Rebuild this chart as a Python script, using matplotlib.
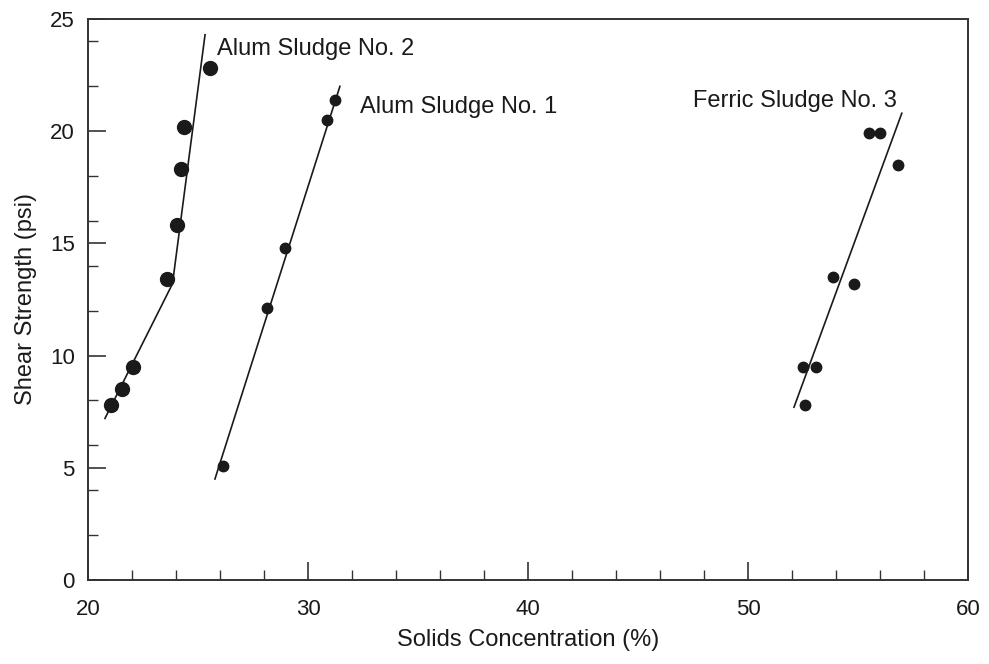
import matplotlib
matplotlib.use('Agg')
import matplotlib.pyplot as plt
from matplotlib.ticker import MultipleLocator

plt.rcParams['font.family'] = ['Liberation Sans', 'DejaVu Sans']

# Alum Sludge No. 2
alum2_x = [21.05, 21.55, 22.05, 23.6, 24.05, 24.23, 24.36, 25.55]
alum2_y = [7.8, 8.5, 9.5, 13.4, 15.8, 18.3, 20.2, 22.8]
alum2_fit_x = [20.77, 23.84, 25.32]
alum2_fit_y = [7.2, 13.2, 24.3]

# Alum Sludge No. 1
alum1_x = [26.14, 28.12, 28.94, 30.85, 31.24]
alum1_y = [5.1, 12.1, 14.8, 20.5, 21.4]
alum1_fit_x = [25.77, 31.45]
alum1_fit_y = [4.5, 22.0]

# Ferric Sludge No. 3
ferric_x = [55.5, 56.0, 56.8, 53.88, 54.8, 52.49, 53.09, 52.6]
ferric_y = [19.9, 19.9, 18.5, 13.5, 13.2, 9.5, 9.5, 7.8]
ferric_fit_x = [52.09, 56.99]
ferric_fit_y = [7.7, 20.8]

labels = ['Alum Sludge No. 2', 'Alum Sludge No. 1', 'Ferric Sludge No. 3']
label_x = [25.86, 32.36, 47.5]
label_y = [23.4, 20.8, 21.1]

fig = plt.figure(figsize=(9.89, 6.64), dpi=100)
ax = fig.add_axes([0.08898, 0.12651, 0.8898, 0.84488])

dark = '#1a1a1a'
ax.plot(alum2_fit_x, alum2_fit_y, color=dark, lw=1.2)
ax.plot(alum2_x, alum2_y, 'o', color=dark, ms=10)
ax.plot(alum1_fit_x, alum1_fit_y, color=dark, lw=1.2)
ax.plot(alum1_x, alum1_y, 'o', color=dark, ms=7.5)
ax.plot(ferric_fit_x, ferric_fit_y, color=dark, lw=1.2)
ax.plot(ferric_x, ferric_y, 'o', color=dark, ms=7.5)

for t, x, y in zip(labels, label_x, label_y):
    ax.text(x, y, t, fontsize=17, va='baseline', ha='left', color=dark)

ax.set_xlim(20, 60)
ax.set_ylim(0, 25)
ax.xaxis.set_major_locator(MultipleLocator(10))
ax.xaxis.set_minor_locator(MultipleLocator(2))
ax.yaxis.set_major_locator(MultipleLocator(5))
ax.yaxis.set_minor_locator(MultipleLocator(2))
ax.tick_params(which='major', direction='in', length=13, width=1.2,
               labelsize=16, colors='#333333', labelcolor=dark)
ax.tick_params(axis='x', which='major', pad=14)
ax.tick_params(axis='y', which='major', pad=9.5)
ax.tick_params(which='minor', direction='in', length=7, width=1.0, colors='#333333')
for s in ax.spines.values():
    s.set_linewidth(1.4)
    s.set_color('#333333')

ax.set_xlabel('Solids Concentration (%)', fontsize=17, labelpad=6.5, color=dark)
ax.set_ylabel('Shear Strength (psi)', fontsize=17, labelpad=9, color=dark)

fig.savefig('out.png', dpi=100)
